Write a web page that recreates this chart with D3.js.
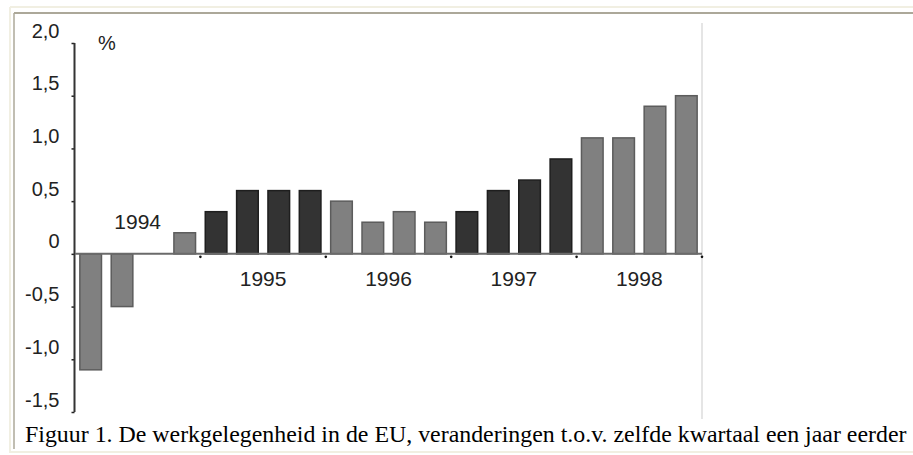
<!DOCTYPE html>
<html>
<head>
<meta charset="utf-8">
<script src="https://cdn.jsdelivr.net/npm/d3@7"></script>
<style>
  body { margin: 0; background: #fff; }
  svg { display: block; }
</style>
</head>
<body>
<svg id="chart"></svg>
<script>
// data
const quarters = [
  "1994K1", "1994K2", "1994K3", "1994K4",
  "1995K1", "1995K2", "1995K3", "1995K4",
  "1996K1", "1996K2", "1996K3", "1996K4",
  "1997K1", "1997K2", "1997K3", "1997K4",
  "1998K1", "1998K2", "1998K3", "1998K4"
]
const values = [
  -1.1, -0.5, null, 0.2,
  0.4, 0.6, 0.6, 0.6,
  0.5, 0.3, 0.4, 0.3,
  0.4, 0.6, 0.7, 0.9,
  1.1, 1.1, 1.4, 1.5
]
const years = ["1994", "1995", "1996", "1997", "1998"]
const yTicks = [2, 1.5, 1, 0.5, 0, -0.5, -1, -1.5]
const yTickLabels = ["2,0", "1,5", "1,0", "0,5", "0", "-0,5", "-1,0", "-1,5"]
const unitLabel = "%"
const caption = "Figuur 1. De werkgelegenheid in de EU, veranderingen t.o.v. zelfde kwartaal een jaar eerder"

const width = 913, height = 455

const svg = d3.select("#chart")
  .attr("width", width)
  .attr("height", height)

// frame (table borders)
const frame = svg.append("g")
frame.append("line").attr("x1", 10).attr("x2", width).attr("y1", 7).attr("y2", 7)
  .attr("stroke", "#f1efe2").attr("stroke-width", 2)
frame.append("line").attr("x1", 10).attr("x2", 10).attr("y1", 7).attr("y2", 453)
  .attr("stroke", "#f1efe2").attr("stroke-width", 2)
frame.append("line").attr("x1", 14).attr("x2", width).attr("y1", 13).attr("y2", 13)
  .attr("stroke", "#aca899").attr("stroke-width", 2)
frame.append("line").attr("x1", 14).attr("x2", 14).attr("y1", 13).attr("y2", 449)
  .attr("stroke", "#aca899").attr("stroke-width", 1.5)
frame.append("line").attr("x1", 10).attr("x2", width).attr("y1", 452).attr("y2", 452)
  .attr("stroke", "#f1efe2").attr("stroke-width", 2)

// right edge of the chart image
svg.append("line")
  .attr("x1", 702).attr("x2", 702).attr("y1", 23).attr("y2", 419)
  .attr("stroke", "#dcdcdc").attr("stroke-width", 1.5)

//scale
const x = d3.scaleBand()
  .domain(quarters)
  .range([75, 702])
  .paddingInner(0.31)
  .paddingOuter(0.155)

const y = d3.scaleLinear()
  .domain([-1.5, 2])
  .range([412, 43])

const xYear = d3.scaleBand()
  .domain(years)
  .range([75, 702])

const font = "'Liberation Sans', Arial, sans-serif"

// y axis
const yAxis = svg.append("g")
  .attr("transform", "translate(74.5,0)")
  .call(d3.axisLeft(y)
    .tickValues(yTicks)
    .tickSize(3)
    .tickPadding(12)
    .tickFormat((d, i) => yTickLabels[i]))

yAxis.select(".domain").remove()
yAxis.selectAll(".tick line").attr("stroke", "#222").attr("stroke-width", 1.5)
yAxis.selectAll(".tick text")
  .attr("font-family", font)
  .attr("font-size", 20)
  .attr("fill", "#222")
  .attr("dy", -6)
  .attr("dominant-baseline", "auto")

yAxis.append("line")
  .attr("y1", y(2)).attr("y2", y(-1.5))
  .attr("stroke", "#333").attr("stroke-width", 2)

svg.append("text")
  .attr("x", 98).attr("y", 50)
  .attr("font-family", font)
  .attr("font-size", 20)
  .attr("fill", "#222")
  .text(unitLabel)

// bars
svg.append("g")
  .selectAll("rect")
  .data(quarters.map((q, i) => ({ q, v: values[i], year: q.slice(0, 4) })).filter(d => d.v !== null))
  .join("rect")
  .attr("x", d => x(d.q))
  .attr("width", x.bandwidth())
  .attr("y", d => y(Math.max(0, d.v)))
  .attr("height", d => Math.abs(y(d.v) - y(0)))
  .attr("fill", d => years.indexOf(d.year) % 2 === 0 ? "#808080" : "#333333")
  .attr("stroke", d => years.indexOf(d.year) % 2 === 0 ? "#5c5c5c" : "#1e1e1e")
  .attr("stroke-width", 1.5)

// x axis
const xAxis = svg.append("g")
  .attr("transform", `translate(0,${y(0)})`)

xAxis.append("line")
  .attr("x1", 75).attr("x2", 702)
  .attr("stroke", "#6a6a6a").attr("stroke-width", 2)

xAxis.selectAll("circle")
  .data(years)
  .join("circle")
  .attr("cx", d => xYear(d) + xYear.bandwidth())
  .attr("cy", 3)
  .attr("r", 1.3)
  .attr("fill", "#111")

svg.append("g")
  .selectAll("text")
  .data(years)
  .join("text")
  .attr("x", d => xYear(d) + xYear.bandwidth() / 2)
  .attr("y", d => d === "1994" ? 229 : 286)
  .attr("text-anchor", "middle")
  .attr("font-family", font)
  .attr("font-size", 21)
  .attr("fill", "#222")
  .text(d => d)

// caption
const cap = svg.append("text")
  .attr("x", 25).attr("y", 442)
  .attr("font-family", "'Liberation Serif', 'Times New Roman', serif")
  .attr("font-size", 20)
  .attr("fill", "#000")
  .text(caption)

const capLen = cap.node().getComputedTextLength()
cap.attr("font-size", 20 * 882 / capLen)
</script>
</body>
</html>
